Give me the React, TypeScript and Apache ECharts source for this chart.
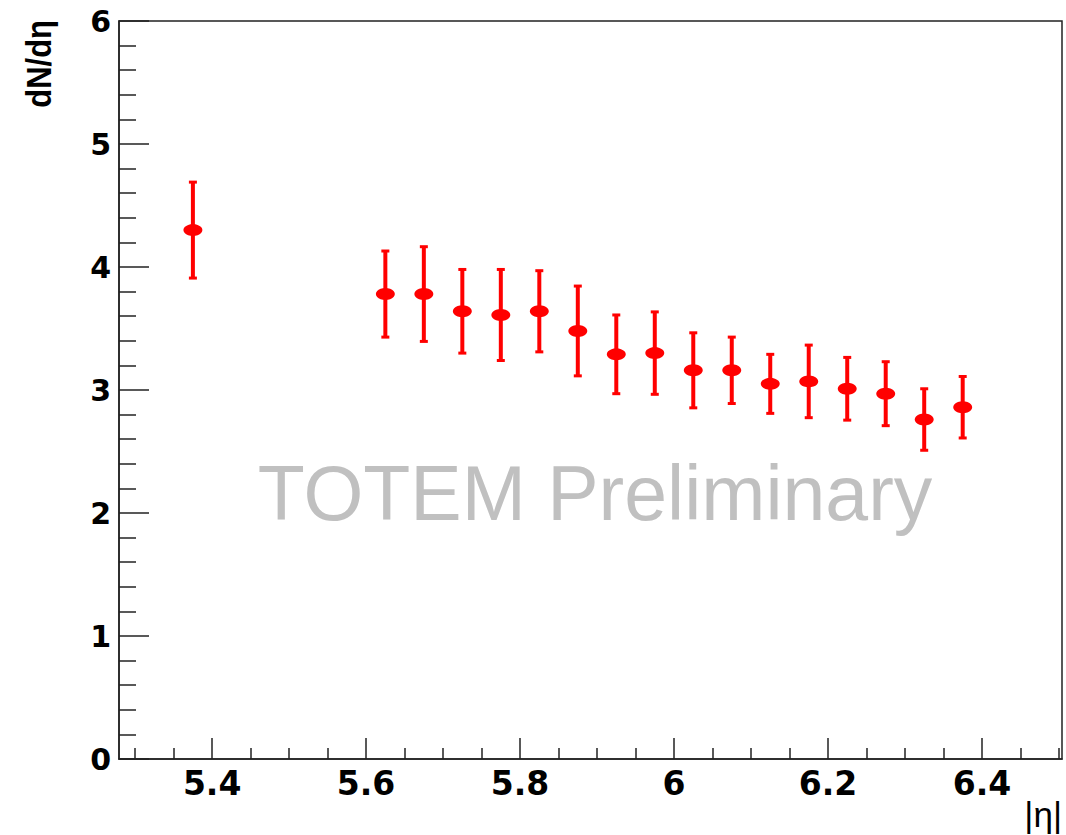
import React, { useEffect, useRef } from "react";
import * as echarts from "echarts";

const etaValues = [5.375, 5.625, 5.675, 5.725, 5.775, 5.825, 5.875, 5.925, 5.975, 6.025, 6.075, 6.125, 6.175, 6.225, 6.275, 6.325, 6.375];
const dNdEta = [4.30, 3.78, 3.78, 3.64, 3.61, 3.64, 3.48, 3.29, 3.30, 3.16, 3.16, 3.05, 3.07, 3.01, 2.97, 2.76, 2.86];
const dNdEtaErr = [0.39, 0.35, 0.385, 0.34, 0.37, 0.33, 0.365, 0.32, 0.335, 0.305, 0.27, 0.24, 0.295, 0.255, 0.26, 0.25, 0.25];

const xMajorTicks = [5.4, 5.6, 5.8, 6, 6.2, 6.4];
const xMinorTicks = [5.3, 5.35, 5.45, 5.5, 5.55, 5.65, 5.7, 5.75, 5.85, 5.9, 5.95, 6.05, 6.1, 6.15, 6.25, 6.3, 6.35, 6.45, 6.5];
const yMajorTicks = [0, 1, 2, 3, 4, 5, 6];
const yMinorTicks = [0.2, 0.4, 0.6, 0.8, 1.2, 1.4, 1.6, 1.8, 2.2, 2.4, 2.6, 2.8, 3.2, 3.4, 3.6, 3.8, 4.2, 4.4, 4.6, 4.8, 5.2, 5.4, 5.6, 5.8];

const X_MIN = 5.279;
const X_MAX = 6.504;

export default function App() {
  const ref = useRef<HTMLDivElement>(null);
  useEffect(() => {
    if (!ref.current) return;
    const chart = echarts.init(ref.current, null, { renderer: "svg" });
    const axisColor = "#222";
    const points = etaValues.map((x, i) => [x, dNdEta[i], dNdEtaErr[i]]);
    const option: any = {
      animation: false,
      backgroundColor: "#fff",
      grid: {
        left: 119,
        top: 21,
        right: 4,
        bottom: 76,
        show: true,
        borderColor: axisColor,
        borderWidth: 1.5,
        backgroundColor: "transparent",
      },
      xAxis: [
        {
          type: "value",
          min: X_MIN,
          max: X_MAX,
          position: "bottom",
          splitLine: { show: false },
          axisLine: { show: true, onZero: false, lineStyle: { color: axisColor, width: 1.5 } },
          axisTick: { show: true, inside: true, length: 21, customValues: xMajorTicks, lineStyle: { color: axisColor, width: 1.5 } },
          axisLabel: {
            show: true,
            customValues: xMajorTicks,
            margin: 8,
            fontFamily: "DejaVu Sans",
            fontWeight: "bold",
            fontSize: 33,
            color: "#000",
            formatter: (v: number) => String(Math.round(v * 10) / 10),
          },
        },
        {
          type: "value",
          min: X_MIN,
          max: X_MAX,
          position: "bottom",
          splitLine: { show: false },
          axisLine: { show: false, onZero: false },
          axisTick: { show: true, inside: true, length: 11, customValues: xMinorTicks, lineStyle: { color: axisColor, width: 1.5 } },
          axisLabel: { show: false },
        },
      ],
      yAxis: [
        {
          type: "value",
          min: 0,
          max: 6,
          position: "left",
          splitLine: { show: false },
          axisLine: { show: true, onZero: false, lineStyle: { color: axisColor, width: 1.5 } },
          axisTick: { show: true, inside: true, length: 30, customValues: yMajorTicks, lineStyle: { color: axisColor, width: 1.5 } },
          axisLabel: {
            show: true,
            customValues: yMajorTicks,
            margin: 8,
            fontFamily: "DejaVu Sans",
            fontWeight: "bold",
            fontSize: 30,
            color: "#000",
          },
        },
        {
          type: "value",
          min: 0,
          max: 6,
          position: "left",
          splitLine: { show: false },
          axisLine: { show: false, onZero: false },
          axisTick: { show: true, inside: true, length: 17, customValues: yMinorTicks, lineStyle: { color: axisColor, width: 1.5 } },
          axisLabel: { show: false },
        },
      ],
      graphic: [
        {
          type: "text",
          x: 595,
          y: 493,
          z: 0,
          style: {
            text: "TOTEM Preliminary",
            fontFamily: "Liberation Sans",
            fontSize: 77,
            fill: "#c0c0c0",
            align: "center",
            verticalAlign: "middle",
          },
        },
        {
          type: "text",
          x: 39,
          y: 20,
          rotation: Math.PI / 2,
          scaleY: 1.15,
          style: {
            text: "dN/dη",
            fontFamily: "Liberation Sans",
            fontWeight: "bold",
            fontSize: 31,
            fill: "#000",
            align: "right",
            verticalAlign: "middle",
          },
        },
        {
          type: "text",
          x: 1062,
          y: 797,
          style: {
            text: "|η|",
            fontFamily: "Liberation Sans",
            fontSize: 35,
            fill: "#000",
            align: "right",
            verticalAlign: "top",
          },
        },
      ],
      series: [
        {
          type: "custom",
          xAxisIndex: 0,
          yAxisIndex: 0,
          data: points,
          z: 5,
          renderItem: (params: any, api: any) => {
            const x = api.value(0);
            const y = api.value(1);
            const e = api.value(2);
            const top = api.coord([x, y + e]);
            const bot = api.coord([x, y - e]);
            const style = { stroke: "#ff0000", lineWidth: 4 };
            return {
              type: "group",
              children: [
                { type: "line", shape: { x1: top[0], y1: top[1], x2: bot[0], y2: bot[1] }, style },
                { type: "line", shape: { x1: top[0] - 4, y1: top[1], x2: top[0] + 4, y2: top[1] }, style: { stroke: "#ff0000", lineWidth: 3 } },
                { type: "line", shape: { x1: bot[0] - 4, y1: bot[1], x2: bot[0] + 4, y2: bot[1] }, style: { stroke: "#ff0000", lineWidth: 3 } },
              ],
            };
          },
        },
        {
          type: "scatter",
          xAxisIndex: 0,
          yAxisIndex: 0,
          data: points.map((p) => [p[0], p[1]]),
          symbol: "circle",
          symbolSize: [19, 12],
          itemStyle: { color: "#ff0000", opacity: 1 },
          z: 6,
        },
      ],
    };
    chart.setOption(option);
    return () => chart.dispose();
  }, []);
  return (
    <div
      ref={ref}
      style={{ position: "absolute", left: 0, top: 0, width: 1066, height: 835 }}
    />
  );
}
